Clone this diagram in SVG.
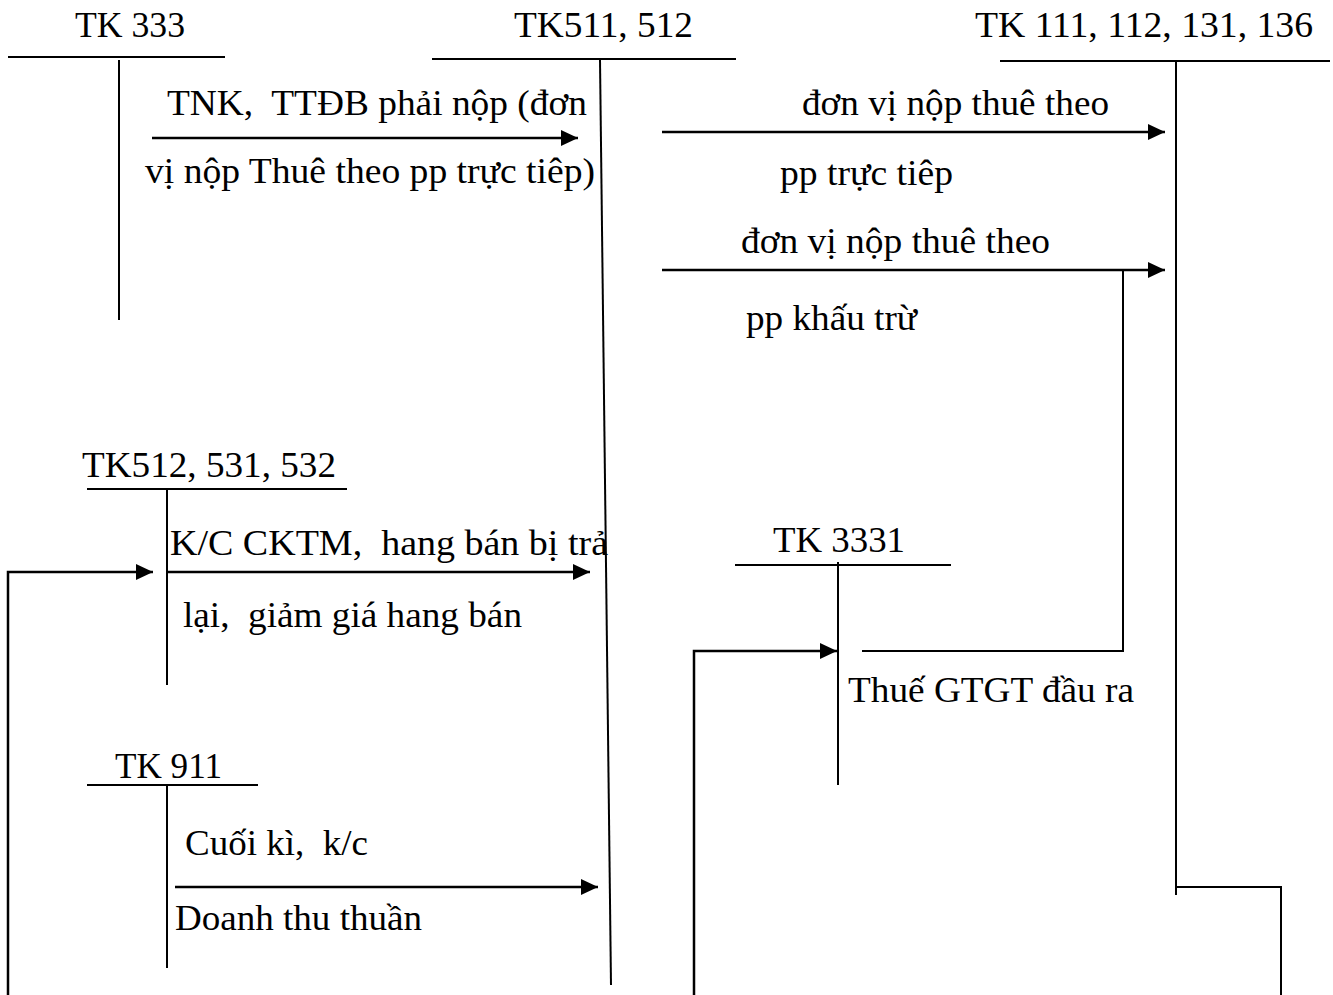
<svg xmlns="http://www.w3.org/2000/svg" width="1333" height="995" viewBox="0 0 1333 995">
<style>
text{font-family:"Liberation Serif","Times New Roman",serif;font-size:36px;fill:#000;white-space:pre}
.l{stroke:#000;stroke-width:2;fill:none}
.a{stroke:#000;stroke-width:2.5;fill:none;marker-end:url(#ah)}
</style>
<defs>
<marker id="ah" markerUnits="userSpaceOnUse" markerWidth="18" markerHeight="18" refX="17" refY="8" orient="auto">
<path d="M0,0 L17,8 L0,16 Z" fill="#000"/>
</marker>
</defs>
<rect width="1333" height="995" fill="#fff"/>
<g id="tk333">
<text x="75" y="37" textLength="110" lengthAdjust="spacingAndGlyphs">TK 333</text>
<line class="l" x1="8" y1="57" x2="225" y2="57"/>
<line class="l" x1="119" y1="60" x2="119" y2="320"/>
</g>
<g id="tk511">
<text x="514" y="37" textLength="179" lengthAdjust="spacingAndGlyphs">TK511, 512</text>
<line class="l" x1="432" y1="59" x2="736" y2="59"/>
<line class="l" x1="600" y1="60" x2="611" y2="985"/>
</g>
<g id="tk111">
<text x="975" y="37" textLength="338" lengthAdjust="spacingAndGlyphs">TK 111, 112, 131, 136</text>
<line class="l" x1="1000" y1="61" x2="1330" y2="61"/>
<line class="l" x1="1176" y1="62" x2="1176" y2="895"/>
</g>
<g id="tk512">
<text x="82" y="477" textLength="254" lengthAdjust="spacingAndGlyphs">TK512, 531, 532</text>
<line class="l" x1="87" y1="489" x2="347" y2="489"/>
<line class="l" x1="167" y1="490" x2="167" y2="685"/>
</g>
<g id="tk3331">
<text x="773" y="552" textLength="132" lengthAdjust="spacingAndGlyphs">TK 3331</text>
<line class="l" x1="735" y1="565" x2="951" y2="565"/>
<line class="l" x1="838" y1="562" x2="838" y2="785"/>
</g>
<g id="tk911">
<text x="115" y="778" textLength="107" lengthAdjust="spacingAndGlyphs">TK 911</text>
<line class="l" x1="87" y1="785" x2="258" y2="785"/>
<line class="l" x1="167" y1="786" x2="167" y2="968"/>
</g>
<g id="connectors">
<line class="a" x1="152" y1="138" x2="578" y2="138"/>
<line class="a" x1="662" y1="132" x2="1165" y2="132"/>
<line class="a" x1="662" y1="270" x2="1165" y2="270"/>
<polyline class="l" points="1123,270 1123,651 862,651"/>
<polyline class="a" points="8,995 8,572 153,572"/>
<line class="a" x1="168" y1="572" x2="590" y2="572"/>
<polyline class="a" points="694,995 694,651 837,651"/>
<line class="a" x1="175" y1="887" x2="598" y2="887"/>
<polyline class="l" points="1176,887 1281,887 1281,995"/>
</g>
<g id="labels">
<text x="167" y="115" textLength="420" lengthAdjust="spacingAndGlyphs">TNK,  TTĐB phải nộp (đơn</text>
<text x="145" y="183" textLength="450" lengthAdjust="spacingAndGlyphs">vị nộp Thuê theo pp trực tiêp)</text>
<text x="802" y="115" textLength="307" lengthAdjust="spacingAndGlyphs">đơn vị nộp thuê theo</text>
<text x="780" y="185" textLength="173" lengthAdjust="spacingAndGlyphs">pp trực tiêp</text>
<text x="741" y="253" textLength="309" lengthAdjust="spacingAndGlyphs">đơn vị nộp thuê theo</text>
<text x="746" y="330" textLength="171" lengthAdjust="spacingAndGlyphs">pp khấu trừ</text>
<text x="170" y="555" textLength="438" lengthAdjust="spacingAndGlyphs">K/C CKTM,  hang bán bị trả</text>
<text x="183" y="627" textLength="339" lengthAdjust="spacingAndGlyphs">lại,  giảm giá hang bán</text>
<text x="848" y="702" textLength="286" lengthAdjust="spacingAndGlyphs">Thuế GTGT đầu ra</text>
<text x="185" y="855" textLength="183" lengthAdjust="spacingAndGlyphs">Cuối kì,  k/c</text>
<text x="175" y="930" textLength="247" lengthAdjust="spacingAndGlyphs">Doanh thu thuần</text>
</g>
</svg>
